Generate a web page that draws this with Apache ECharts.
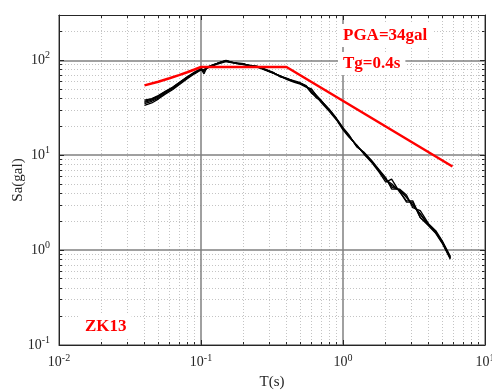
<!DOCTYPE html>
<html>
<head>
<meta charset="utf-8">
<script src="https://cdn.jsdelivr.net/npm/echarts@6/dist/echarts.min.js"></script>
<style>
  html, body { margin: 0; padding: 0; background: #fff; }
  #chart { width: 492px; height: 390px; }
</style>
</head>
<body>
<div id="chart"></div>
<script>
// Periods (s) shared by the response spectra
const periods = [0.04,0.045,0.05,0.056,0.063,0.071,0.08,0.09,0.1,0.105,0.11,0.12,0.13,0.14,0.15,0.16,0.18,0.2,0.22,0.25,0.28,0.32,0.36,0.4,0.45,0.5,0.55,0.6,0.65,0.7,0.8,0.9,1.0,1.1,1.25,1.4,1.6,1.8,2.0,2.2,2.5,2.8,3.1,3.5,4.0,4.5,5.0,5.7];

// Acceleration response spectra Sa (gal) of the ground motions
const spectrum1 = [35,37,40,45,50,57,65,73,80,76,83,88,92,96,100,96,93,91,88,86,80,74,68,64,60,57,53,45,41,37,30,24,19,16,12.5,10.6,8.5,6.8,5.6,4.8,4.3,3.6,3.0,2.4,1.85,1.55,1.22,0.83];
const spectrum2 = [33.5,35.5,39,44,49,56,64,72,79,80,82,87,91,94,97,95,92,90,89,85,79,73,69,63,59,56,52,50,42,36,29,23.5,18.5,15.5,12.8,10.3,8.3,6.6,5.2,5.6,4.1,3.3,3.3,2.2,1.8,1.5,1.18,0.8];
const spectrum3 = [36,38,41,46,51,58,66,74,81,72,84,89,93,97,98,95,94,92,87,86,81,75,67,64,61,58,54,47,40,37.5,30.5,24.5,19.5,16.5,12.2,10.8,8.7,7.0,5.8,4.4,4.4,3.8,2.8,2.6,1.9,1.6,1.25,0.86];
const spectrum4 = [37,39,42,46.5,51.5,58.5,66.5,74,80,78,83,88,92,95,99,97,92,90,88,84,80,74,68,65,60,57,53,49,43,38,30,24,19,16,12.6,10.5,8.4,6.9,5.5,5.0,4.2,3.2,3.2,2.2,1.85,1.52,1.2,0.82];
const spectrum5 = [38,39.5,42.5,47,52,59,67,75,82,79,84,89,93,96,99,96,93,91,88,86,80,74,68,64,60,57,53,46,41,37,30,24,19,16,12.5,10.6,8.6,6.8,5.6,4.6,4.3,3.6,3.0,2.4,1.85,1.55,1.22,0.84];
const spectra = [spectrum1, spectrum2, spectrum3, spectrum4, spectrum5];

// Design (code) spectrum: PGA = 34 gal, Tg = 0.4 s
const designT  = [0.04, 0.05, 0.06, 0.07, 0.08, 0.09, 0.1, 0.4, 5.9];
const designSa = [54.4, 59.5, 64.6, 69.7, 74.8, 79.9, 85, 85, 7.6];

// Axis ticks
const xMajor = [0.01, 0.1, 1, 10];
const xMinor = [0.02,0.03,0.04,0.05,0.06,0.07,0.08,0.09,0.2,0.3,0.4,0.5,0.6,0.7,0.8,0.9,2,3,4,5,6,7,8,9];
const yMajor = [0.1, 1, 10, 100];
const yMinor = [0.2,0.3,0.4,0.5,0.6,0.7,0.8,0.9,2,3,4,5,6,7,8,9,20,30,40,50,60,70,80,90,200];

const serif = '"Liberation Serif", "DejaVu Serif", serif';
const ink = '#262626';

function powLabel(v) {
  const e = Math.round(Math.log10(v));
  return '{b|10}{s|' + e + '}';
}
const labelRich = {
  b: { fontFamily: serif, fontSize: 14, color: ink },
  s: { fontFamily: serif, fontSize: 10, color: ink, padding: [0, 0, 9, 0] }
};

function makeAxis(kind, opts) {
  const isX = kind === 'x';
  return Object.assign({
    type: 'log',
    logBase: 10,
    min: isX ? 0.01 : 0.1,
    max: isX ? 10 : 300,
    axisLine: { show: false },
    axisTick: { show: false },
    axisLabel: { show: false },
    splitLine: { show: false },
    minorTick: { show: false },
    minorSplitLine: { show: false }
  }, opts);
}

const gridRect = { left: 59, right: 7, top: 15, bottom: 45, containLabel: false, outerBoundsMode: 'none' };

const majorTick = (vals) => ({ show: true, inside: true, length: 5, customValues: vals, lineStyle: { color: ink, width: 1 } });
const minorTick = (vals) => ({ show: true, inside: true, length: 3, customValues: vals, lineStyle: { color: ink, width: 1 } });

const option = {
  backgroundColor: '#fff',
  animation: false,
  grid: [Object.assign({}, gridRect), Object.assign({}, gridRect)],
  xAxis: [
    makeAxis('x', {
      gridIndex: 0, position: 'bottom', z: 3,
      axisLine: { show: true, lineStyle: { color: ink, width: 1 } },
      axisTick: majorTick(xMajor),
      axisLabel: { show: true, customValues: xMajor, margin: 8, formatter: powLabel, rich: labelRich },
      splitLine: { show: true, lineStyle: { color: '#808080', width: 1.5 } },
      name: 'T(s)', nameLocation: 'middle', nameGap: 30, nameMoveOverlap: false,
      nameTextStyle: { fontFamily: serif, fontSize: 15, color: ink }
    }),
    makeAxis('x', {
      gridIndex: 0, position: 'top', z: 3,
      axisLine: { show: true, lineStyle: { color: ink, width: 1 } },
      axisTick: majorTick(xMajor)
    }),
    makeAxis('x', {
      gridIndex: 1, position: 'bottom', z: 1,
      axisTick: minorTick(xMinor),
      splitLine: { show: true, lineStyle: { color: '#c4c4c4', width: 1, type: [1, 2] } }
    }),
    makeAxis('x', {
      gridIndex: 1, position: 'top', z: 1,
      axisTick: minorTick(xMinor)
    })
  ],
  yAxis: [
    makeAxis('y', {
      gridIndex: 0, position: 'left', z: 3,
      axisLine: { show: true, lineStyle: { color: ink, width: 1 } },
      axisTick: majorTick(yMajor),
      axisLabel: { show: true, customValues: yMajor, margin: 9, formatter: powLabel, rich: labelRich },
      splitLine: { show: true, lineStyle: { color: '#808080', width: 1.5 } },
      name: 'Sa(gal)', nameLocation: 'middle', nameGap: 33, nameRotate: 90, nameMoveOverlap: false,
      nameTextStyle: { fontFamily: serif, fontSize: 15, color: ink }
    }),
    makeAxis('y', {
      gridIndex: 0, position: 'right', z: 3,
      axisLine: { show: true, lineStyle: { color: ink, width: 1 } },
      axisTick: majorTick(yMajor)
    }),
    makeAxis('y', {
      gridIndex: 1, position: 'left', z: 1,
      axisTick: minorTick(yMinor),
      splitLine: { show: true, lineStyle: { color: '#c4c4c4', width: 1, type: [1, 2] } }
    }),
    makeAxis('y', {
      gridIndex: 1, position: 'right', z: 1,
      axisTick: minorTick(yMinor)
    })
  ],
  series: spectra.map(function (sa, k) {
    return {
      name: 'record' + (k + 1),
      type: 'line',
      xAxisIndex: 0, yAxisIndex: 0,
      data: periods.map(function (t, i) { return [t, sa[i]]; }),
      showSymbol: false, symbol: 'none',
      lineStyle: { color: '#000', width: 1.3 },
      z: 4
    };
  }).concat([{
    name: 'design',
    type: 'line',
    xAxisIndex: 0, yAxisIndex: 0,
    data: designT.map(function (t, i) { return [t, designSa[i]]; }),
    showSymbol: false, symbol: 'none',
    lineStyle: { color: '#ff0000', width: 2.5 },
    z: 5
  }]),
  graphic: [
    { type: 'text', left: 338, top: 24, z: 100,
      style: { text: 'PGA=34gal', fill: '#ff0000', font: 'bold 17px ' + serif, backgroundColor: '#fff', padding: [3, 5, 3, 5] } },
    { type: 'text', left: 338, top: 52, z: 100,
      style: { text: 'Tg=0.4s', fill: '#ff0000', font: 'bold 17px ' + serif, backgroundColor: '#fff', padding: [3, 5, 3, 5] } },
    { type: 'text', left: 80, top: 315, z: 100,
      style: { text: 'ZK13', fill: '#ff0000', font: 'bold 17px ' + serif, backgroundColor: '#fff', padding: [3, 5, 3, 5] } }
  ]
};

const chart = echarts.init(document.getElementById('chart'), null, { renderer: 'canvas' });
chart.setOption(option);
</script>
</body>
</html>
